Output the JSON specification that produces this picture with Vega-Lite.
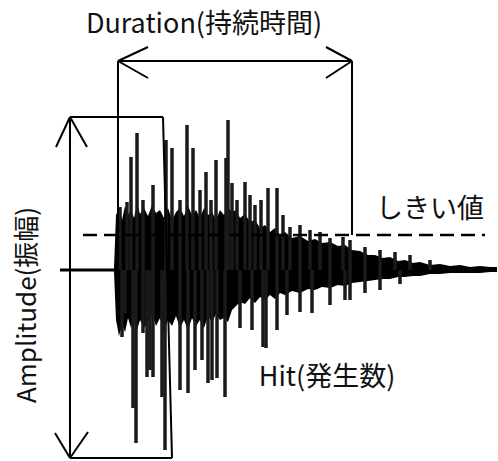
{
  "$schema": "https://vega.github.io/schema/vega-lite/v6.json",
  "width": 498,
  "height": 461,
  "autosize": {"type": "fit", "contains": "padding"},
  "padding": 0,
  "background": "white",
  "config": {"view": {"stroke": null}},
  "datasets": {
    "core": [
      {"t": 114, "top": 2, "bot": -2},
      {"t": 116, "top": 55, "bot": -50},
      {"t": 119, "top": 62, "bot": -66},
      {"t": 122, "top": 50, "bot": -55},
      {"t": 125, "top": 64, "bot": -62},
      {"t": 128, "top": 55, "bot": -48},
      {"t": 131, "top": 60, "bot": -58},
      {"t": 134, "top": 52, "bot": -45},
      {"t": 137, "top": 66, "bot": -60},
      {"t": 140, "top": 56, "bot": -50},
      {"t": 144, "top": 62, "bot": -58},
      {"t": 148, "top": 54, "bot": -52},
      {"t": 152, "top": 65, "bot": -44},
      {"t": 156, "top": 57, "bot": -56},
      {"t": 160, "top": 60, "bot": -48},
      {"t": 164, "top": 52, "bot": -62},
      {"t": 168, "top": 62, "bot": -50},
      {"t": 172, "top": 50, "bot": -56},
      {"t": 176, "top": 58, "bot": -46},
      {"t": 180, "top": 62, "bot": -58},
      {"t": 184, "top": 54, "bot": -50},
      {"t": 188, "top": 64, "bot": -60},
      {"t": 192, "top": 55, "bot": -48},
      {"t": 196, "top": 60, "bot": -56},
      {"t": 200, "top": 52, "bot": -50},
      {"t": 204, "top": 62, "bot": -58},
      {"t": 208, "top": 55, "bot": -46},
      {"t": 212, "top": 58, "bot": -52},
      {"t": 216, "top": 50, "bot": -44},
      {"t": 220, "top": 60, "bot": -50},
      {"t": 224, "top": 55, "bot": -48},
      {"t": 228, "top": 62, "bot": -52},
      {"t": 232, "top": 58, "bot": -40},
      {"t": 236, "top": 60, "bot": -36},
      {"t": 240, "top": 52, "bot": -32},
      {"t": 245, "top": 56, "bot": -34},
      {"t": 250, "top": 48, "bot": -28},
      {"t": 255, "top": 50, "bot": -33},
      {"t": 260, "top": 42, "bot": -27},
      {"t": 265, "top": 45, "bot": -30},
      {"t": 270, "top": 38, "bot": -25},
      {"t": 275, "top": 42, "bot": -29},
      {"t": 280, "top": 35, "bot": -23},
      {"t": 285, "top": 38, "bot": -25},
      {"t": 292, "top": 32, "bot": -21},
      {"t": 300, "top": 34, "bot": -23},
      {"t": 308, "top": 29, "bot": -19},
      {"t": 315, "top": 31, "bot": -20},
      {"t": 322, "top": 27, "bot": -17},
      {"t": 330, "top": 28, "bot": -18},
      {"t": 338, "top": 24, "bot": -15},
      {"t": 345, "top": 25, "bot": -16},
      {"t": 352, "top": 20, "bot": -13},
      {"t": 360, "top": 19, "bot": -12},
      {"t": 368, "top": 15, "bot": -11},
      {"t": 375, "top": 15, "bot": -10},
      {"t": 383, "top": 12, "bot": -9},
      {"t": 390, "top": 13, "bot": -9},
      {"t": 398, "top": 9, "bot": -7},
      {"t": 405, "top": 10, "bot": -7},
      {"t": 413, "top": 7, "bot": -6},
      {"t": 420, "top": 8, "bot": -6},
      {"t": 430, "top": 5, "bot": -4},
      {"t": 440, "top": 6, "bot": -4},
      {"t": 450, "top": 4, "bot": -3},
      {"t": 460, "top": 5, "bot": -3},
      {"t": 470, "top": 3, "bot": -3},
      {"t": 480, "top": 4, "bot": -3},
      {"t": 490, "top": 3, "bot": -2},
      {"t": 497, "top": 3, "bot": -2}
    ],
    "spikes": [
      {"t": 120, "a": 63}, {"t": 127, "a": 68}, {"t": 131, "a": 113}, {"t": 137, "a": 137},
      {"t": 143, "a": 70}, {"t": 153, "a": 85}, {"t": 166, "a": 130}, {"t": 172, "a": 122},
      {"t": 180, "a": 70}, {"t": 187, "a": 145}, {"t": 193, "a": 122}, {"t": 200, "a": 80},
      {"t": 206, "a": 98}, {"t": 211, "a": 70}, {"t": 216, "a": 110}, {"t": 226, "a": 112},
      {"t": 228, "a": 150}, {"t": 232, "a": 87}, {"t": 237, "a": 70}, {"t": 245, "a": 88},
      {"t": 250, "a": 75}, {"t": 255, "a": 65}, {"t": 261, "a": 70}, {"t": 268, "a": 82},
      {"t": 277, "a": 82}, {"t": 283, "a": 55}, {"t": 290, "a": 43}, {"t": 300, "a": 45},
      {"t": 310, "a": 40}, {"t": 320, "a": 38}, {"t": 330, "a": 32}, {"t": 343, "a": 33},
      {"t": 350, "a": 30}, {"t": 365, "a": 23}, {"t": 380, "a": 20}, {"t": 395, "a": 18},
      {"t": 410, "a": 15}, {"t": 430, "a": 10},
      {"t": 122, "a": -67}, {"t": 125, "a": -43}, {"t": 133, "a": -138}, {"t": 136, "a": -173},
      {"t": 143, "a": -63}, {"t": 147, "a": -107}, {"t": 150, "a": -100}, {"t": 153, "a": -107},
      {"t": 162, "a": -127}, {"t": 165, "a": -180}, {"t": 180, "a": -120}, {"t": 188, "a": -123},
      {"t": 195, "a": -100}, {"t": 202, "a": -90}, {"t": 208, "a": -113}, {"t": 212, "a": -110},
      {"t": 217, "a": -108}, {"t": 225, "a": -127}, {"t": 240, "a": -58}, {"t": 252, "a": -60},
      {"t": 263, "a": -77}, {"t": 266, "a": -78}, {"t": 277, "a": -60}, {"t": 287, "a": -45},
      {"t": 300, "a": -42}, {"t": 312, "a": -43}, {"t": 330, "a": -35}, {"t": 345, "a": -30},
      {"t": 350, "a": -30}, {"t": 365, "a": -23}, {"t": 380, "a": -20}, {"t": 400, "a": -14}
    ],
    "lines": [
      {"t": 118, "a": 209, "t2": 352, "a2": 209},
      {"t": 118, "a": 209, "t2": 118, "a2": 0},
      {"t": 352, "a": 209, "t2": 352, "a2": 35},
      {"t": 118, "a": 209, "t2": 148, "a2": 223},
      {"t": 118, "a": 209, "t2": 148, "a2": 192},
      {"t": 352, "a": 209, "t2": 326, "a2": 223},
      {"t": 352, "a": 209, "t2": 326, "a2": 192},
      {"t": 70, "a": 153, "t2": 163, "a2": 153},
      {"t": 70, "a": 153, "t2": 70, "a2": -188},
      {"t": 70, "a": -188, "t2": 172, "a2": -188},
      {"t": 163, "a": 153, "t2": 172, "a2": -188},
      {"t": 70, "a": 153, "t2": 56, "a2": 123},
      {"t": 70, "a": 153, "t2": 87, "a2": 123},
      {"t": 70, "a": -188, "t2": 55, "a2": -163},
      {"t": 70, "a": -188, "t2": 88, "a2": -162}
    ],
    "baseline": [{"t": 60, "a": 0, "t2": 118, "a2": 0}],
    "threshold": [{"t": 83, "a": 35, "t2": 485, "a2": 35}],
    "labels": [
      {"label": "Duration(持続時間)", "t": 204, "a": 245},
      {"label": "しきい値", "t": 430, "a": 60},
      {"label": "Hit(発生数)", "t": 327, "a": -108}
    ],
    "vlabels": [
      {"label": "Amplitude(振幅)", "t": 28, "a": -35}
    ]
  },
  "layer": [
    {
      "data": {"name": "core"},
      "mark": {"type": "area", "color": "#000000"},
      "encoding": {
        "x": {"field": "t", "type": "quantitative", "scale": {"domain": [0, 498], "nice": false, "zero": false}, "axis": null},
        "y": {"field": "top", "type": "quantitative", "scale": {"domain": [-191, 270], "nice": false, "zero": false}, "axis": null},
        "y2": {"field": "bot"}
      }
    },
    {
      "data": {"name": "spikes"},
      "mark": {"type": "rule", "color": "#1a1a1a", "strokeWidth": 3.5},
      "encoding": {
        "x": {"field": "t", "type": "quantitative"},
        "y": {"field": "a", "type": "quantitative"},
        "y2": {"datum": 0}
      }
    },
    {
      "data": {"name": "lines"},
      "mark": {"type": "rule", "color": "#000000", "strokeWidth": 2},
      "encoding": {
        "x": {"field": "t", "type": "quantitative"},
        "y": {"field": "a", "type": "quantitative"},
        "x2": {"field": "t2"},
        "y2": {"field": "a2"}
      }
    },
    {
      "data": {"name": "baseline"},
      "mark": {"type": "rule", "color": "#000000", "strokeWidth": 3},
      "encoding": {
        "x": {"field": "t", "type": "quantitative"},
        "y": {"field": "a", "type": "quantitative"},
        "x2": {"field": "t2"},
        "y2": {"field": "a2"}
      }
    },
    {
      "data": {"name": "threshold"},
      "mark": {"type": "rule", "color": "#000000", "strokeWidth": 2.5, "strokeDash": [14, 7]},
      "encoding": {
        "x": {"field": "t", "type": "quantitative"},
        "y": {"field": "a", "type": "quantitative"},
        "x2": {"field": "t2"},
        "y2": {"field": "a2"}
      }
    },
    {
      "data": {"name": "labels"},
      "mark": {"type": "text", "font": "Noto Sans CJK JP", "fontSize": 27, "color": "#111111", "align": "center", "baseline": "middle"},
      "encoding": {
        "x": {"field": "t", "type": "quantitative"},
        "y": {"field": "a", "type": "quantitative"},
        "text": {"field": "label"}
      }
    },
    {
      "data": {"name": "vlabels"},
      "mark": {"type": "text", "font": "Noto Sans CJK JP", "fontSize": 26, "color": "#111111", "align": "center", "baseline": "middle", "angle": 270},
      "encoding": {
        "x": {"field": "t", "type": "quantitative"},
        "y": {"field": "a", "type": "quantitative"},
        "text": {"field": "label"}
      }
    }
  ]
}
